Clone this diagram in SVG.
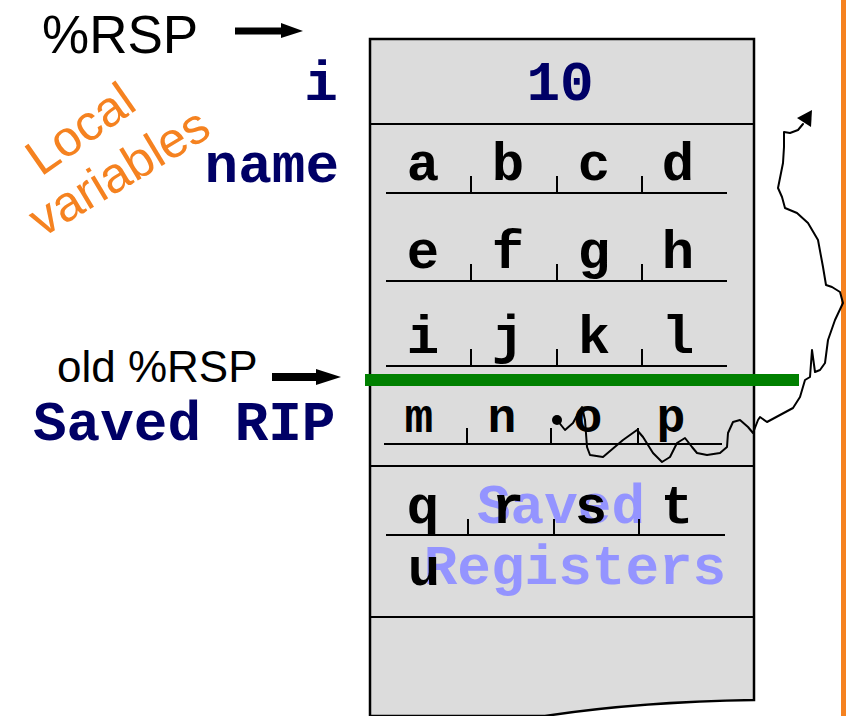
<svg xmlns="http://www.w3.org/2000/svg" width="850" height="716" viewBox="0 0 850 716">
<defs>
<style>
.mono{font-family:"Liberation Mono","Courier New",monospace;font-weight:bold}
.navy{fill:#000066}
.blk{fill:#000}
.sans{font-family:"Liberation Sans",Arial,sans-serif;fill:#000}
.ln{stroke:#000;stroke-width:2;fill:none}
.reg{fill:#9494ff}
</style>
</defs>
<rect width="850" height="716" fill="#fff"/>
<g id="stack">
<path d="M370,39 H754 V700 C690,701 610,706 545,716 L370,716 Z" fill="#dcdcdc" stroke="#000" stroke-width="2.5"/>
<line class="ln" x1="370" y1="124" x2="754" y2="124" stroke-width="2.5"/>
<line class="ln" x1="370" y1="466" x2="754" y2="466" stroke-width="2.5"/>
<line class="ln" x1="370" y1="617" x2="754" y2="617" stroke-width="2.5"/>
</g>
<g id="value-i">
<text class="mono navy" x="560" y="100" font-size="56" text-anchor="middle">10</text>
</g>
<g id="saved-registers-label">
<text class="mono reg" x="561" y="523" font-size="56" text-anchor="middle">Saved</text>
<text class="mono reg" x="575" y="584" font-size="56" text-anchor="middle">Registers</text>
</g>
<g id="name-bytes">
<g class="ln">
<path d="M386,193 H727 M471,176 V193 M557,176 V193 M642,176 V193"/>
<path d="M386,281 H727 M471,264 V281 M557,264 V281 M642,264 V281"/>
<path d="M386,366 H727 M471,349 V366 M557,349 V366 M642,349 V366"/>
<path d="M384,444 H722 M467,428 V444 M551,428 V444 M638,428 V444"/>
<path d="M386,535 H725 M468,519 V535 M554,519 V535 M639,519 V535"/>
</g>
<g class="mono blk" font-size="54" text-anchor="middle">
<text x="423" y="180">a</text><text x="508" y="180">b</text><text x="594" y="180">c</text><text x="678" y="180">d</text>
<text x="423" y="268">e</text><text x="508" y="268">f</text><text x="594" y="268">g</text><text x="678" y="268">h</text>
<text x="423" y="353">i</text><text x="508" y="353">j</text><text x="594" y="353">k</text><text x="678" y="353">l</text>
<text x="423" y="523">q</text><text x="508" y="523">r</text><text x="591" y="523">s</text><text x="677" y="523">t</text>
<text x="424" y="585">u</text>
</g>
<g class="mono blk" font-size="48" text-anchor="middle">
<text x="419" y="432">m</text><text x="502" y="432">n</text><text x="588" y="432">o</text><text x="671" y="432">p</text>
</g>
</g>
<g id="labels">
<text class="sans" x="42" y="53" font-size="53">%RSP</text>
<text class="sans" x="57" y="382" font-size="44">old %RSP</text>
<text class="mono navy" x="321" y="100" font-size="56" text-anchor="middle">i</text>
<text class="mono navy" x="339" y="182" font-size="56" text-anchor="end">name</text>
<text class="mono navy" x="33" y="440" font-size="56">Saved RIP</text>
<g font-family="Liberation Sans, Arial, sans-serif" font-size="50" fill="#f58220">
<text transform="translate(41,177) rotate(-35)">Local</text>
<text transform="translate(42,238) rotate(-31)">variables</text>
</g>
</g>
<g id="connectors">
<path d="M235,31 H284" stroke="#000" stroke-width="7"/>
<polygon points="281,23 303,31 281,38" fill="#000"/>
<path d="M272,377 H319" stroke="#000" stroke-width="8"/>
<polygon points="316,369 341,377 316,385" fill="#000"/>
<line x1="365" y1="380" x2="799" y2="380" stroke="#008000" stroke-width="12"/>
<line x1="843.5" y1="0" x2="843.5" y2="716" stroke="#f58220" stroke-width="5"/>
<circle cx="557" cy="420" r="5" fill="#000"/>
<path class="ln" stroke-linejoin="round" stroke-linecap="round" d="M557,420 L565,430 L573,423 L580,410 L582,407 L585,420 L587,447 L590,455 L603,457 L623,440 L637,430 L643,437 L653,453 L662,462 L670,457 L677,443 L685,438 L692,447 L697,453 L707,455 L720,453 L727,447 L728,433 L733,422 L740,420 L748,427 L753,433 L758,420 L760,417 L767,422 L780,415 L793,408 L800,397 L805,380 L810,377 L812,350 L815,372 L820,370 L825,363 L828,340 L835,320 L843,303 L840,292 L832,287 L826,285 L823,267 L818,240 L808,223 L797,213 L785,208 L782,197 L778,188 L781,173 L783,163 L784,147 L784,132 L790,133 L798,130 L803,124"/>
<polygon points="812,110 797,118 811,127" fill="#000"/>
</g>
</svg>
